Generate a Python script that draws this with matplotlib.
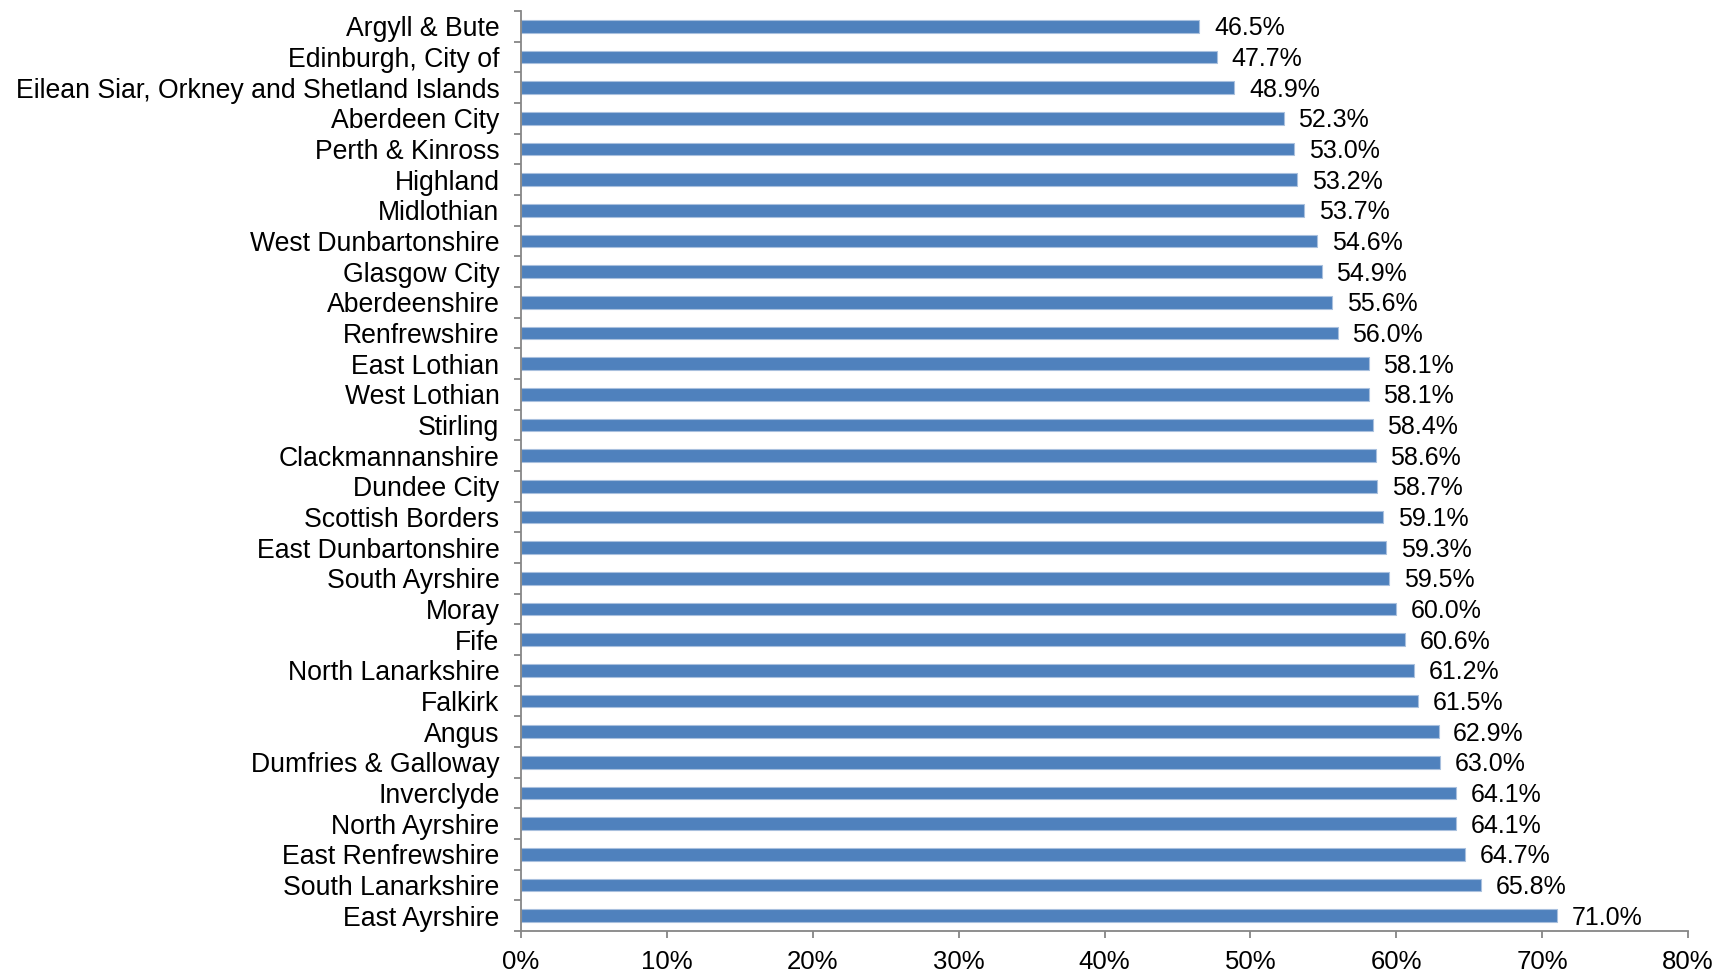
import numpy as np
import matplotlib
matplotlib.use("Agg")
import matplotlib.pyplot as plt
from matplotlib.ticker import FixedLocator, PercentFormatter

BAR, EDGE, AXIS = "#4f81bd", "#a9c0de", "#868686"
plt.rcParams.update({"font.family": ["Liberation Sans", "DejaVu Sans"],
                     "font.size": 18.5})

areas = ["Argyll & Bute", "Edinburgh, City of",
         "Eilean Siar, Orkney and Shetland Islands", "Aberdeen City",
         "Perth & Kinross", "Highland", "Midlothian", "West Dunbartonshire",
         "Glasgow City", "Aberdeenshire", "Renfrewshire", "East Lothian",
         "West Lothian", "Stirling", "Clackmannanshire", "Dundee City",
         "Scottish Borders", "East Dunbartonshire", "South Ayrshire", "Moray",
         "Fife", "North Lanarkshire", "Falkirk", "Angus",
         "Dumfries & Galloway", "Inverclyde", "North Ayrshire",
         "East Renfrewshire", "South Lanarkshire", "East Ayrshire"]
share = [46.5, 47.7, 48.9, 52.3, 53.0, 53.2, 53.7, 54.6, 54.9, 55.6, 56.0,
         58.1, 58.1, 58.4, 58.6, 58.7, 59.1, 59.3, 59.5, 60.0, 60.6, 61.2,
         61.5, 62.9, 63.0, 64.1, 64.1, 64.7, 65.8, 71.0]

fig = plt.figure(figsize=(17.21, 9.76), dpi=100)
ax = fig.add_axes([521 / 1721, 1 - 931 / 976, (1688 - 521) / 1721, 920 / 976])
y = np.arange(len(areas))
ax.barh(y, share, height=0.41, color=BAR, edgecolor=EDGE, linewidth=0.8)
for yi, v in zip(y, share):
    ax.text(v + 1.0, yi + 0.07, f"{v:.1f}%", va="center", ha="left",
            fontsize=18, color="black")

ax.set_xlim(0, 80)
ax.set_ylim(len(areas) - 0.5, -0.5)
ax.set_xticks(np.arange(0, 81, 10))
ax.xaxis.set_major_formatter(PercentFormatter(decimals=0))
ax.set_yticks(y)
ax.set_yticklabels(areas, fontsize=19.2)
# category ticks sit between the bars
ax.yaxis.set_minor_locator(FixedLocator(np.arange(-0.5, len(areas), 1)))
ax.tick_params(axis="y", which="major", length=0, pad=15.5)
ax.tick_params(axis="y", which="minor", length=5, width=1.3, color=AXIS)
ax.tick_params(axis="x", length=5, width=1.3, color=AXIS, pad=9)
for s in ("top", "right"):
    ax.spines[s].set_visible(False)
for s in ("left", "bottom"):
    ax.spines[s].set_color(AXIS)
    ax.spines[s].set_linewidth(1.3)

fig.savefig("out.png", dpi=100)
